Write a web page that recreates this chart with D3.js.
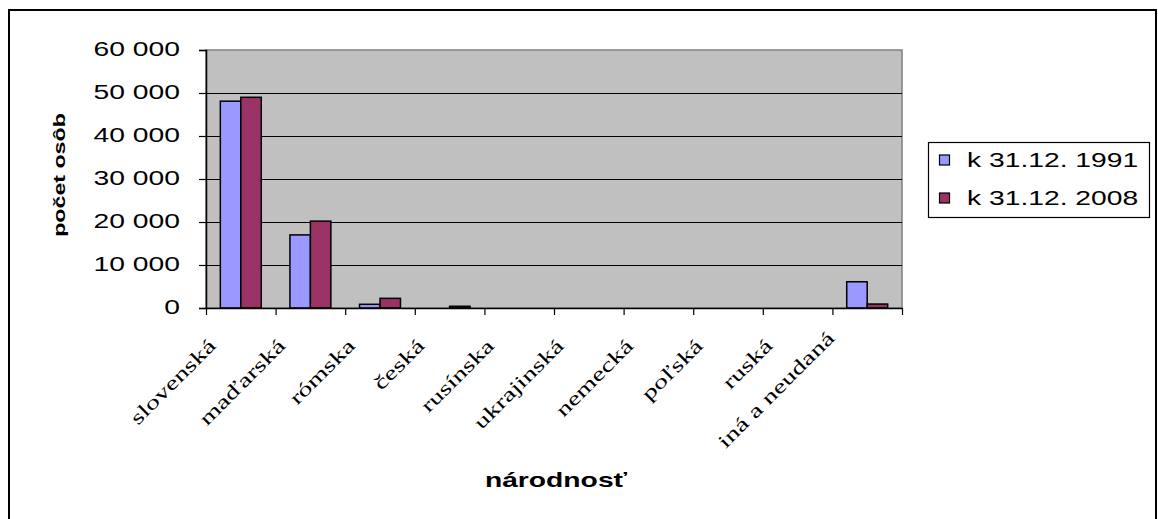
<!DOCTYPE html>
<html><head><meta charset="utf-8">
<script src="https://cdn.jsdelivr.net/npm/d3@7"></script>
<style>
body{margin:0;background:#fff;}
svg{display:block;}
</style></head>
<body>
<svg id="c" width="1158" height="519"></svg>
<script>
const categories = ["slovenská","maďarská","rómska","česká","rusínska","ukrajinská","nemecká","poľská","ruská","iná a neudaná"];
const seriesNames = ["k 31.12. 1991","k 31.12. 2008"];
const values1991 = [48100, 17000, 860, 0, 0, 0, 0, 0, 0, 6100];
const values2008 = [49000, 20200, 2250, 400, 0, 0, 0, 0, 0, 920];
const yTicks = [0, 10000, 20000, 30000, 40000, 50000, 60000];
const colors = ["#9999FF", "#993366"];
const yTitle = "počet osôb";
const xTitle = "národnosť";

const svg = d3.select("#c");
const SX = 1.45;
const plot = {left: 206, right: 902, top: 50, bottom: 308};

svg.append("rect").attr("x",0).attr("y",0).attr("width",1158).attr("height",519).attr("fill","#fff");
svg.append("rect").attr("x",9).attr("y",10).attr("width",1147).attr("height",520)
  .attr("fill","none").attr("stroke","#000").attr("stroke-width",2);

const x = d3.scaleBand().domain(categories).range([plot.left, plot.right]).paddingInner(0).paddingOuter(0);
const x1 = d3.scaleBand().domain(seriesNames).range([0, x.bandwidth()]).paddingInner(0).paddingOuter(0.7);
const y = d3.scaleLinear().domain([0, 60000]).range([plot.bottom, plot.top]);
const xIdx = d3.scaleLinear().domain([0, categories.length]).range([plot.left, plot.right]);

svg.append("rect").attr("x",plot.left).attr("y",plot.top).attr("width",plot.right-plot.left).attr("height",plot.bottom-plot.top)
  .attr("fill","#C0C0C0").attr("stroke","#808080").attr("stroke-width",1.5);

svg.append("g").selectAll("line").data(yTicks.filter(t=>t>0 && t<60000)).join("line")
  .attr("x1",plot.left).attr("x2",plot.right).attr("y1",d=>Math.round(y(d))+0.5).attr("y2",d=>Math.round(y(d))+0.5)
  .attr("stroke","#000").attr("stroke-width",1);

const loc = d3.formatLocale({decimal:",", thousands:" ", grouping:[3], currency:["",""]});
const fmt = loc.format(",");

const data = categories.map((c,i)=>({c, vals:[values1991[i], values2008[i]]}));
const groups = svg.append("g").selectAll("g").data(data).join("g").attr("transform",d=>`translate(${x(d.c)},0)`);
groups.selectAll("rect").data(d=>d.vals.map((v,j)=>({v,j})).filter(e=>e.v>0)).join("rect")
  .attr("x",e=>x1(seriesNames[e.j])).attr("width",x1.bandwidth())
  .attr("y",e=>y(e.v)).attr("height",e=>y(0)-y(e.v))
  .attr("fill",e=>colors[e.j]).attr("stroke","#000").attr("stroke-width",1.5);

// y axis
const yAxis = svg.append("g").attr("transform",`translate(${plot.left},0)`)
  .call(d3.axisLeft(y).tickValues(yTicks).tickFormat(fmt).tickSize(7).tickPadding(19));
yAxis.select(".domain").attr("stroke","#000").attr("stroke-width",1.5);
yAxis.selectAll(".tick line").attr("stroke","#000").attr("stroke-width",1.2);
yAxis.selectAll(".tick text").each(function(){
  const t = d3.select(this);
  const xx = +t.attr("x");
  t.attr("x",0).attr("dy",null).attr("dominant-baseline","central")
   .attr("transform",`translate(${xx},-1) scale(${SX},1)`)
   .attr("font-family","Arial, 'Liberation Sans', sans-serif").attr("font-size",19.5).attr("fill","#000");
});

// x axis (boundary ticks)
const xAxis = svg.append("g").attr("transform",`translate(0,${plot.bottom})`)
  .call(d3.axisBottom(xIdx).tickValues(d3.range(categories.length+1)).tickFormat("").tickSize(7).tickSizeOuter(0));
xAxis.select(".domain").attr("stroke","#000").attr("stroke-width",1.5);
xAxis.selectAll(".tick line").attr("stroke","#000").attr("stroke-width",1.2);

// category labels
const maxBottom = 452;
svg.append("g").selectAll("text").data(categories).join("text")
  .attr("text-anchor","end")
  .attr("font-family","'Liberation Serif','Times New Roman',serif").attr("font-size",19.5).attr("fill","#000")
  .attr("transform",d=>`translate(${x(d)+x.bandwidth()/2-24},347) rotate(-45) scale(${SX},1)`)
  .text(d=>d)
  .each(function(d){
    const b = this.getBoundingClientRect();
    if (b.bottom > maxBottom) {
      const s = b.bottom - maxBottom;
      d3.select(this).attr("transform",`translate(${x(d)+x.bandwidth()/2-24-s},${347-s}) rotate(-45) scale(${SX},1)`);
    }
  });

// axis titles
svg.append("text").attr("text-anchor","middle")
  .attr("font-family","Arial, 'Liberation Sans', sans-serif").attr("font-weight","bold").attr("font-size",19.5)
  .attr("transform",`translate(556,487) scale(${SX},1)`).text(xTitle);
svg.append("text").attr("text-anchor","middle")
  .attr("font-family","Arial, 'Liberation Sans', sans-serif").attr("font-weight","bold").attr("font-size",16)
  .attr("transform",`translate(65,175) rotate(-90) scale(${SX},1)`).text(yTitle);

// legend
const lg = svg.append("g");
lg.append("rect").attr("x",928.5).attr("y",142.5).attr("width",221).attr("height",75)
  .attr("fill","#fff").attr("stroke","#000").attr("stroke-width",1.2);
seriesNames.forEach((s,i)=>{
  const cy = 160 + i*38;
  lg.append("rect").attr("x",939.5).attr("y",cy-5).attr("width",10).attr("height",10)
    .attr("fill",colors[i]).attr("stroke","#000").attr("stroke-width",1.2);
  lg.append("text").attr("dominant-baseline","central")
    .attr("font-family","Arial, 'Liberation Sans', sans-serif").attr("font-size",19.5)
    .attr("transform",`translate(967,${cy}) scale(${SX},1)`).text(s);
});
</script>
</body></html>
